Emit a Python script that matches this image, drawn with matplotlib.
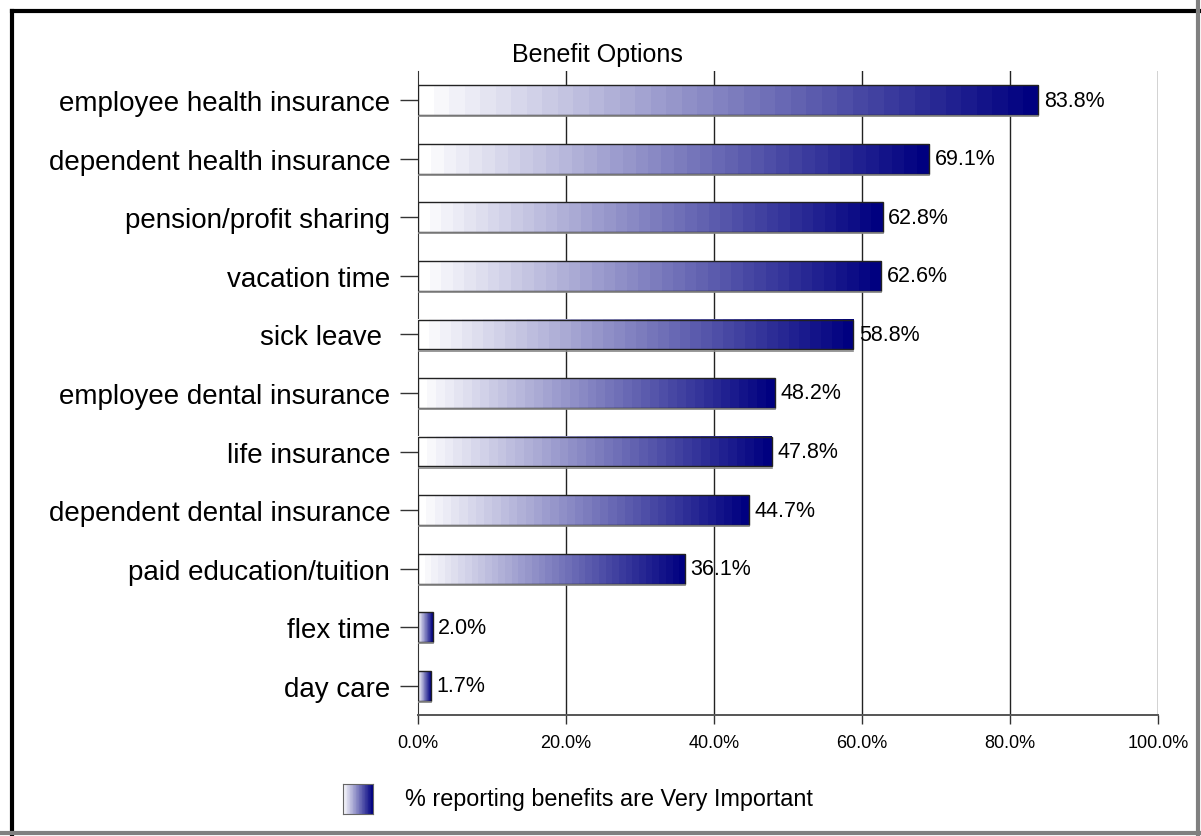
import numpy as np
import matplotlib.pyplot as plt
from matplotlib.lines import Line2D
from matplotlib.patches import Rectangle

plt.rcParams['font.family'] = ['Liberation Sans', 'DejaVu Sans']

benefits = ['employee health insurance', 'dependent health insurance',
            'pension/profit sharing', 'vacation time', 'sick leave ',
            'employee dental insurance', 'life insurance',
            'dependent dental insurance', 'paid education/tuition',
            'flex time', 'day care']
pct_very_important = [83.8, 69.1, 62.8, 62.6, 58.8, 48.2, 47.8, 44.7, 36.1, 2.0, 1.7]
xtick_vals = [0, 20, 40, 60, 80, 100]
xtick_labels = ['0.0%', '20.0%', '40.0%', '60.0%', '80.0%', '100.0%']
legend_label = '% reporting benefits are Very Important'

W, H = 1201, 837
fig = plt.figure(figsize=(W / 100, H / 100), dpi=100)
ax = fig.add_axes([418 / W, 1 - 716 / H, 740 / W, (716 - 72) / H])

# banded white -> navy gradient
n_bands = 40
t = np.linspace(0, 1, n_bands)
grad = np.zeros((1, n_bands, 3))
grad[0, :, 0] = 1 - t
grad[0, :, 1] = 1 - t
grad[0, :, 2] = 1 - t * (1 - 128 / 255)

bar_h = 0.51
ypos = np.arange(len(benefits))
for y, v in zip(ypos, pct_very_important):
    ax.imshow(grad, extent=[0, v, y + bar_h / 2, y - bar_h / 2],
              aspect='auto', interpolation='nearest', zorder=3)
    ax.add_patch(Rectangle((0, y - bar_h / 2), v, bar_h, facecolor='none',
                           edgecolor='#222222', lw=1.0, zorder=4))
    ax.plot([0, v], [y + bar_h / 2 + 0.02] * 2, color='#888888', lw=1.2, zorder=4)
    ax.annotate(f'{v:.1f}%', (v, y), xytext=(4, 0), textcoords='offset points',
                va='center', ha='left', fontsize=15.5, zorder=5)

ax.set_xlim(0, 100)
ax.set_ylim(len(benefits) - 0.5, -0.5)
ax.set_yticks(ypos)
ax.set_yticklabels(benefits, fontsize=20)
ax.set_xticks(xtick_vals)
ax.set_xticklabels(xtick_labels, fontsize=13)
ax.tick_params(axis='y', length=13, width=1, color='#333333', pad=7)
ax.tick_params(axis='x', length=6.5, width=1, color='#333333', pad=7)
for x in xtick_vals[1:]:
    ax.axvline(x, color='#222222', lw=1, zorder=1)
for s in ['top', 'right']:
    ax.spines[s].set_visible(False)
ax.spines['left'].set_color('#333333')
ax.spines['bottom'].set_color('#555555')
ax.spines['bottom'].set_linewidth(1.4)

fig.text(597 / W, 1 - 62 / H, 'Benefit Options', ha='center', va='baseline', fontsize=18)

# legend swatch and label
lax = fig.add_axes([343 / W, 1 - 815 / H, 30 / W, 30 / H])
lax.imshow(grad, aspect='auto', interpolation='nearest')
lax.set_xticks([])
lax.set_yticks([])
for s in lax.spines.values():
    s.set_color('#666666')
fig.text(405 / W, 1 - 800 / H, legend_label, ha='left', va='center', fontsize=16.8)

# frame around the whole chart
fig.add_artist(Line2D([12 / W, 12 / W], [0, 1 - 12 / H], color='black', lw=3))
fig.add_artist(Line2D([12 / W, 1], [1 - 12 / H, 1 - 12 / H], color='black', lw=3))
fig.add_artist(Line2D([1 - 3 / W, 1 - 3 / W], [0, 1], color='#808080', lw=3))
fig.add_artist(Line2D([0, 1], [3 / H, 3 / H], color='#808080', lw=3))

fig.savefig('out.png', dpi=100)
